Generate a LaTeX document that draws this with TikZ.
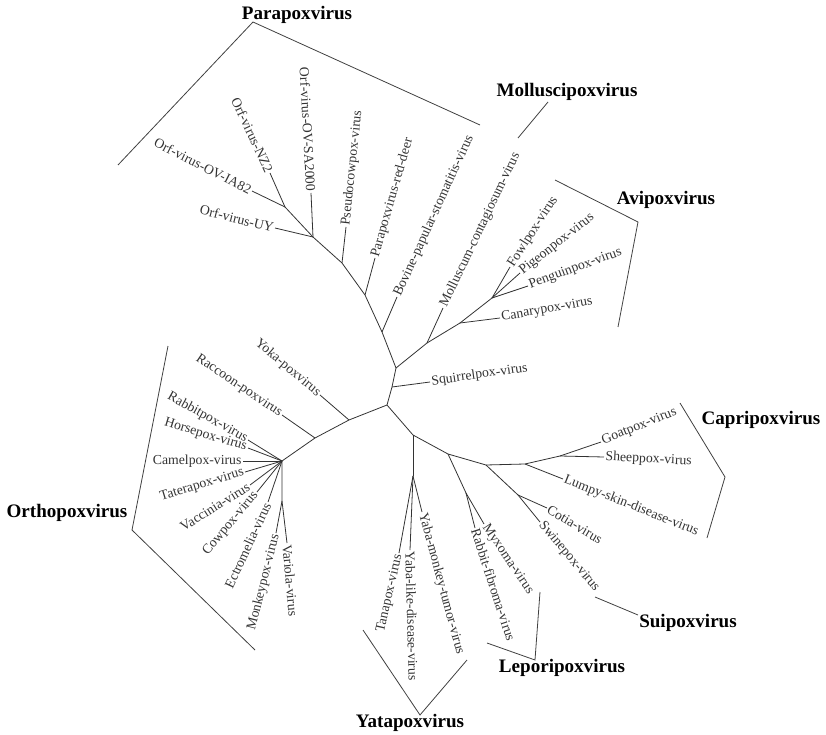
\documentclass[tikz,border=0pt]{standalone}
\usepackage{fontspec}
\setmainfont{Liberation Serif}
\begin{document}
\begin{tikzpicture}[x=0.75pt,y=-0.75pt]
\tikzset{virus/.style={inner sep=1pt, text=black!80, font=\fontsize{10.3}{12}\selectfont},
  versdroite/.style={virus, anchor=west},
  versgauche/.style={virus, anchor=east},
  genre/.style={inner sep=0pt, font=\fontsize{14.3}{16}\selectfont\bfseries},
  branche/.style={draw=black!80, line width=0.6pt},
  crochet/.style={draw=black!75, line width=0.6pt}}
\useasboundingbox (0,0) rectangle (826,735);
\coordinate (R) at (387,405);
\coordinate (S) at (392,387);
\coordinate (A) at (396,368);
\coordinate (P1) at (382,332);
\coordinate (P2) at (365,295);
\coordinate (P3) at (342,263);
\coordinate (P4) at (313,237);
\coordinate (P5) at (285,207);
\coordinate (M1) at (427,343);
\coordinate (V1) at (460,323);
\coordinate (V2) at (492,298);
\coordinate (O1) at (349,420);
\coordinate (O2) at (315,438);
\coordinate (O3) at (282,461);
\coordinate (O4) at (282,501);
\coordinate (Y1) at (413,435);
\coordinate (Y2) at (413,476);
\coordinate (L1) at (448,454);
\coordinate (L2) at (466,493);
\coordinate (C1) at (486,465);
\coordinate (C2) at (518,495);
\coordinate (C3) at (525,464);
\coordinate (C4) at (560,456);
\coordinate (tIA82) at (252,191);
\coordinate (tNZ2) at (270,173);
\coordinate (tSA2000) at (311,193);
\coordinate (tUY) at (275,228);
\coordinate (tPseudo) at (346,227);
\coordinate (tDeer) at (375,258);
\coordinate (tBovine) at (397,297);
\coordinate (tMollusc) at (443,308);
\coordinate (tFowl) at (510,267);
\coordinate (tPigeon) at (520,273);
\coordinate (tPenguin) at (528,286);
\coordinate (tCanary) at (500,318);
\coordinate (tSquirrel) at (430,382);
\coordinate (tYoka) at (320,395);
\coordinate (tRaccoon) at (282,415);
\coordinate (tRabbitpox) at (248,440);
\coordinate (tHorse) at (248,448);
\coordinate (tCamel) at (243,461);
\coordinate (tTatera) at (245,472);
\coordinate (tVaccinia) at (250,485);
\coordinate (tCow) at (257,492);
\coordinate (tEctro) at (268,502);
\coordinate (tMonkey) at (276,533);
\coordinate (tVariola) at (287,543);
\coordinate (tTana) at (399,553);
\coordinate (tYabaLike) at (410,550);
\coordinate (tYabaMonkey) at (422,512);
\coordinate (tMyxoma) at (484,524);
\coordinate (tFibroma) at (475,528);
\coordinate (tSwine) at (540,522);
\coordinate (tCotia) at (547,508);
\coordinate (tLumpy) at (563,479);
\coordinate (tSheep) at (604,457);
\coordinate (tGoat) at (601,442);
\node[versgauche, rotate=-27] (nIA82) at (tIA82) {Orf-virus-OV-IA82};
\node[versgauche, rotate=-65] (nNZ2) at (tNZ2) {Orf-virus-NZ2};
\node[versgauche, rotate=-87] (nSA2000) at (tSA2000) {Orf-virus-OV-SA2000};
\node[versgauche, rotate=-14] (nUY) at (tUY) {Orf-virus-UY};
\node[versdroite, rotate=84] (nPseudo) at (tPseudo) {Pseudocowpox-virus};
\node[versdroite, rotate=74] (nDeer) at (tDeer) {Parapoxvirus-red-deer};
\node[versdroite, rotate=65.5] (nBovine) at (tBovine) {Bovine-papular-stomatitis-virus};
\node[versdroite, rotate=64.5] (nMollusc) at (tMollusc) {Molluscum-contagiosum-virus};
\node[versdroite, rotate=57] (nFowl) at (tFowl) {Fowlpox-virus};
\node[versdroite, rotate=38] (nPigeon) at (tPigeon) {Pigeonpox-virus};
\node[versdroite, rotate=20] (nPenguin) at (tPenguin) {Penguinpox-virus};
\node[versdroite, rotate=10] (nCanary) at (tCanary) {Canarypox-virus};
\node[versdroite, rotate=8] (nSquirrel) at (tSquirrel) {Squirrelpox-virus};
\node[versgauche, rotate=-40] (nYoka) at (tYoka) {Yoka-poxvirus};
\node[versgauche, rotate=-34] (nRaccoon) at (tRaccoon) {Raccoon-poxvirus};
\node[versgauche, rotate=-29] (nRabbitpox) at (tRabbitpox) {Rabbitpox-virus};
\node[versgauche, rotate=-17] (nHorse) at (tHorse) {Horsepox-virus};
\node[versgauche] (nCamel) at (tCamel) {Camelpox-virus};
\node[versgauche, rotate=17] (nTatera) at (tTatera) {Taterapox-virus};
\node[versgauche, rotate=32] (nVaccinia) at (tVaccinia) {Vaccinia-virus};
\node[versgauche, rotate=50] (nCow) at (tCow) {Cowpox-virus};
\node[versgauche, rotate=65] (nEctro) at (tEctro) {Ectromelia-virus};
\node[versgauche, rotate=76] (nMonkey) at (tMonkey) {Monkeypox-virus};
\node[versdroite, rotate=-85] (nVariola) at (tVariola) {Variola-virus};
\node[versgauche, rotate=77] (nTana) at (tTana) {Tanapox-virus};
\node[versdroite, rotate=-88.5] (nYabaLike) at (tYabaLike) {Yaba-like-disease-virus};
\node[versdroite, rotate=-75] (nYabaMonkey) at (tYabaMonkey) {Yaba-monkey-tumor-virus};
\node[versdroite, rotate=-56] (nMyxoma) at (tMyxoma) {Myxoma-virus};
\node[versdroite, rotate=-72] (nFibroma) at (tFibroma) {Rabbit-fibroma-virus};
\node[versdroite, rotate=-50] (nSwine) at (tSwine) {Swinepox-virus};
\node[versdroite, rotate=-31] (nCotia) at (tCotia) {Cotia-virus};
\node[versdroite, rotate=-21.5] (nLumpy) at (tLumpy) {Lumpy-skin-disease-virus};
\node[versdroite, rotate=-3] (nSheep) at (tSheep) {Sheeppox-virus};
\node[versdroite, rotate=22] (nGoat) at (tGoat) {Goatpox-virus};
\draw[branche] (R) -- (S) -- (A) -- (P1) -- (P2) -- (P3) -- (P4) -- (P5);
\draw[branche] (P5) -- (tIA82);
\draw[branche] (P5) -- (tNZ2);
\draw[branche] (P4) -- (tSA2000);
\draw[branche] (P4) -- (tUY);
\draw[branche] (P3) -- (tPseudo);
\draw[branche] (P2) -- (tDeer);
\draw[branche] (P1) -- (tBovine);
\draw[branche] (A) -- (M1) -- (V1) -- (V2);
\draw[branche] (M1) -- (tMollusc);
\draw[branche] (V1) -- (tCanary);
\draw[branche] (V2) -- (tFowl);
\draw[branche] (V2) -- (tPigeon);
\draw[branche] (V2) -- (tPenguin);
\draw[branche] (S) -- (tSquirrel);
\draw[branche] (R) -- (O1) -- (O2) -- (O3) -- (O4);
\draw[branche] (O1) -- (tYoka);
\draw[branche] (O2) -- (tRaccoon);
\draw[branche] (O3) -- (tRabbitpox);
\draw[branche] (O3) -- (tHorse);
\draw[branche] (O3) -- (tCamel);
\draw[branche] (O3) -- (tTatera);
\draw[branche] (O3) -- (tVaccinia);
\draw[branche] (O3) -- (tCow);
\draw[branche] (O3) -- (tEctro);
\draw[branche] (O4) -- (tMonkey);
\draw[branche] (O4) -- (tVariola);
\draw[branche] (R) -- (Y1) -- (L1) -- (C1) -- (C3) -- (C4);
\draw[branche] (Y1) -- (Y2);
\draw[branche] (Y2) -- (tTana);
\draw[branche] (Y2) -- (tYabaLike);
\draw[branche] (Y2) -- (tYabaMonkey);
\draw[branche] (L1) -- (L2);
\draw[branche] (L2) -- (tMyxoma);
\draw[branche] (L2) -- (tFibroma);
\draw[branche] (C1) -- (C2) -- (tSwine);
\draw[branche] (C2) -- (tCotia);
\draw[branche] (C3) -- (tLumpy);
\draw[branche] (C4) -- (tSheep);
\draw[branche] (C4) -- (tGoat);
\node[genre] (gPara) at (297,15) {Parapoxvirus};
\node[genre] (gMollusc) at (567,92) {Molluscipoxvirus};
\node[genre] (gAvi) at (666,200) {Avipoxvirus};
\node[genre] (gCapri) at (761,420) {Capripoxvirus};
\node[genre] (gSui) at (688,623) {Suipoxvirus};
\node[genre] (gLepori) at (562,668) {Leporipoxvirus};
\node[genre] (gYata) at (410,723) {Yatapoxvirus};
\node[genre] (gOrtho) at (67,513) {Orthopoxvirus};
\draw[crochet] (118,165) -- (253,22) -- (480,125);
\draw[crochet] (518,138) -- (548,102);
\draw[crochet] (555,180) -- (638,222) -- (618,327);
\draw[crochet] (680,403) -- (725,477) -- (707,538);
\draw[crochet] (595,597) -- (638,615);
\draw[crochet] (487,643) -- (535,660) -- (540,592);
\draw[crochet] (363,630) -- (420,715) -- (467,660);
\draw[crochet] (168,346) -- (132,530) -- (255,650);
\end{tikzpicture}
\end{document}
